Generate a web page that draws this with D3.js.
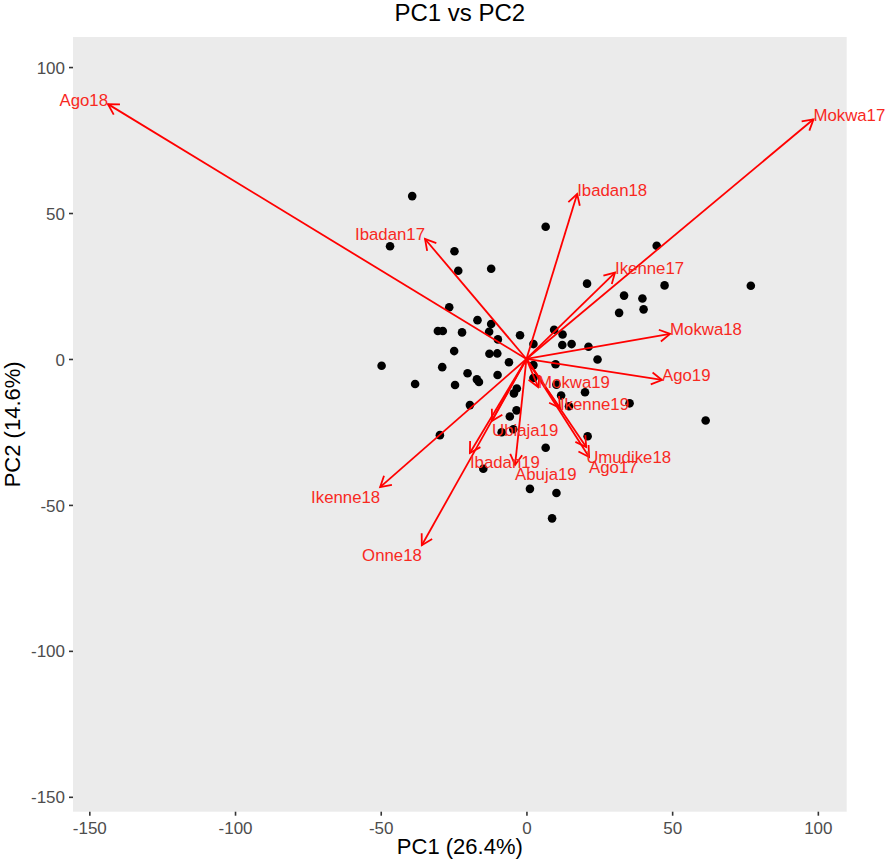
<!DOCTYPE html>
<html>
<head>
<meta charset="utf-8">
<script src="https://cdn.jsdelivr.net/npm/d3@7"></script>
<style>
  html, body { margin: 0; padding: 0; background: #ffffff; }
  svg { display: block; font-family: "Liberation Sans", Arial, Helvetica, sans-serif; }
</style>
</head>
<body>
<svg id="chart" width="886" height="866"></svg>
<script>
// ---- data ----
const chartTitle = "PC1 vs PC2";
const xTitle = "PC1 (26.4%)";
const yTitle = "PC2 (14.6%)";
const xTicks = [-150, -100, -50, 0, 50, 100];
const yTicks = [-150, -100, -50, 0, 50, 100];
const xDomain = [-155.6, 109.9];
const yDomain = [-155.1, 110.3];

const pc1Scores = [-39.2, -46.8, -24.7, -23.4, -12.1, -26.5, -16.8, -12.1, -12.8, -9.8,
  -2.2, -30.4, -28.7, -22.1, -24.8, -12.7, -10.0, -6.0, -49.7, -28.9,
  -20.2, -17.0, -16.3, -9.9, -38.2, -24.5, -3.3, -4.3, -19.4, -3.4,
  -5.7, -29.7, -4.5, -8.5, -14.8, 1.2, 10.3, 8.8, 6.6, 21.0,
  35.4, 61.5, 14.6, 20.1, 11.9, 10.3, 2.4, 2.4, 10.0, 24.4,
  21.3, 12.3, 15.5, 2.4, 12.4, 9.5, 6.6, 44.7, 20.8, 47.4,
  77.0, 33.5, 39.8, 40.2, 31.8];
const pc2Scores = [55.8, 38.6, 36.9, 30.2, 30.9, 17.7, 13.3, 12.0, 9.3, 6.7,
  8.1, 9.6, 9.6, 9.1, 2.7, 1.8, 1.9, -1.1, -2.3, -2.8,
  -4.9, -7.0, -7.9, -5.5, -8.6, -8.9, -10.1, -11.8, -15.8, -17.6,
  -19.7, -26.1, -24.1, -25.1, -37.6, -44.5, -45.9, -54.6, -30.4, -26.5,
  -15.2, -21.1, -16.2, -11.4, -12.5, -8.8, -6.5, -2.1, -1.8, -0.2,
  4.2, 4.8, 5.1, 5.1, 8.4, 10.0, 45.3, 38.8, 25.8, 25.2,
  25.1, 21.7, 20.7, 17.0, 15.8];

const loadingNames = ["Ago18", "Mokwa17", "Ibadan18", "Ibadan17", "Ikenne17", "Mokwa18",
  "Ago19", "Mokwa19", "Ikenne19", "Umudike18", "Ago17", "Abuja19", "Ibadan19",
  "Ubiaja19", "Ikenne18", "Onne18"];
const loadingPC1 = [-143.6, 98.5, 17.4, -34.8, 30.4, 49.3, 46.5, 4.0, 11.5, 20.5, 21.5,
  -3.9, -19.4, -11.8, -50.2, -35.9];
const loadingPC2 = [87.3, 82.1, 56.5, 41.1, 29.6, 8.6, -7.2, -9.6, -16.8, -30.2, -33.6,
  -36.3, -32.2, -21.2, -43.9, -63.8];

// ---- layout ----
const panel = { left: 73, right: 846.7, top: 37, bottom: 811.7 };
const svg = d3.select("#chart");

const x = d3.scaleLinear().domain(xDomain).range([panel.left, panel.right]);
const y = d3.scaleLinear().domain(yDomain).range([panel.bottom, panel.top]);

svg.append("rect").attr("width", 886).attr("height", 866).attr("fill", "#ffffff");
svg.append("rect")
  .attr("x", panel.left).attr("y", panel.top)
  .attr("width", panel.right - panel.left).attr("height", panel.bottom - panel.top)
  .attr("fill", "#EBEBEB");

// axes (hyphen-minus like the reference)
const fmt = d => String(d);
const xAxis = svg.append("g")
  .attr("transform", `translate(0,${panel.bottom})`)
  .call(d3.axisBottom(x).tickValues(xTicks).tickSize(4).tickPadding(3).tickFormat(fmt));
const yAxis = svg.append("g")
  .attr("transform", `translate(${panel.left},0)`)
  .call(d3.axisLeft(y).tickValues(yTicks).tickSize(4).tickPadding(4).tickFormat(fmt));
[xAxis, yAxis].forEach(g => {
  g.select(".domain").remove();
  g.selectAll(".tick line").attr("stroke", "#333333").attr("stroke-width", 1.6);
  g.selectAll(".tick text").attr("fill", "#4D4D4D").attr("font-size", 17)
    .attr("font-family", "Liberation Sans, Arial, sans-serif");
});
xAxis.selectAll(".tick text").attr("dy", "0.92em");
yAxis.selectAll(".tick text").attr("dy", "0.36em");

// points
const pts = pc1Scores.map((v, i) => ({ pc1: v, pc2: pc2Scores[i] }));
svg.append("g").selectAll("circle").data(pts).join("circle")
  .attr("cx", d => x(d.pc1)).attr("cy", d => y(d.pc2))
  .attr("r", 4.3).attr("fill", "#000000");

// loadings arrows
const loads = loadingNames.map((n, i) => ({ name: n, pc1: loadingPC1[i], pc2: loadingPC2[i] }));
const arrowColor = "#FF0000";
const ag = svg.append("g");
loads.forEach(d => {
  const x0 = x(0), y0 = y(0), x1 = x(d.pc1), y1 = y(d.pc2);
  ag.append("line")
    .attr("x1", x0).attr("y1", y0).attr("x2", x1).attr("y2", y1)
    .attr("stroke", arrowColor).attr("stroke-width", 1.8);
  const ang = Math.atan2(y1 - y0, x1 - x0);
  const L = 12, spread = Math.PI / 6;
  const p1 = [x1 - L * Math.cos(ang - spread), y1 - L * Math.sin(ang - spread)];
  const p2 = [x1 - L * Math.cos(ang + spread), y1 - L * Math.sin(ang + spread)];
  ag.append("path")
    .attr("d", `M${p1[0]},${p1[1]}L${x1},${y1}L${p2[0]},${p2[1]}`)
    .attr("fill", "none").attr("stroke", arrowColor).attr("stroke-width", 1.8)
    .attr("stroke-linejoin", "miter");
});
svg.append("g").selectAll("text").data(loads).join("text")
  .attr("x", d => x(d.pc1))
  .attr("y", d => y(d.pc2) + (d.pc2 < -20 ? 10 : -4))
  .attr("text-anchor", d => d.pc1 < -25 ? "end" : "start")
  .attr("dominant-baseline", "central")
  .attr("fill", "#F8291F")
  .attr("font-size", 16.8)
  .text(d => d.name);

// titles
svg.append("text").attr("x", (panel.left + panel.right) / 2).attr("y", 21)
  .attr("text-anchor", "middle").attr("font-size", 24).attr("fill", "#000").text(chartTitle);
svg.append("text").attr("x", (panel.left + panel.right) / 2).attr("y", 854)
  .attr("text-anchor", "middle").attr("font-size", 22).attr("fill", "#000").text(xTitle);
svg.append("text")
  .attr("transform", `translate(20,${(panel.top + panel.bottom) / 2}) rotate(-90)`)
  .attr("text-anchor", "middle").attr("font-size", 22).attr("fill", "#000").text(yTitle);
</script>
</body>
</html>
